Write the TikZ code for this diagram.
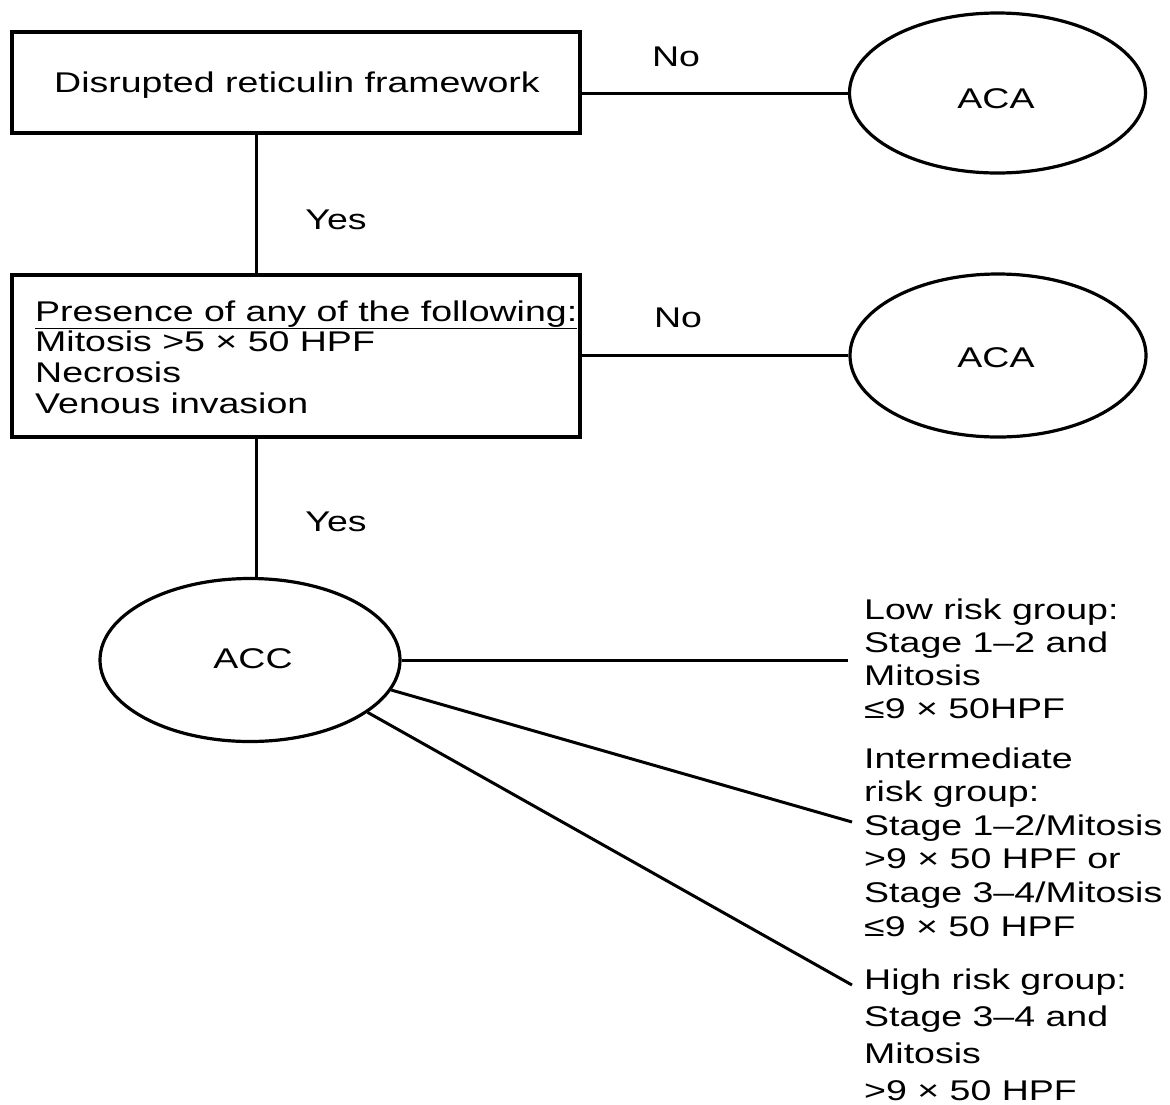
\documentclass[tikz,border=0pt]{standalone}
\usepackage{fontspec}
\setmainfont{Liberation Sans}
\usepackage{graphicx}
\usetikzlibrary{shapes.geometric}
\newcommand{\wide}[1]{\scalebox{1.316}[1]{#1}}
\begin{document}
\begin{tikzpicture}[x=1pt,y=-1pt,
  box/.style={draw, line width=3.8pt, rectangle, inner sep=0pt},
  oval/.style={draw, line width=3.2pt, ellipse, inner sep=0pt},
  conn/.style={line width=3pt},
  lbl/.style={inner sep=0pt, font=\fontsize{28.5}{33}\selectfont},
]
\useasboundingbox (0,0) rectangle (1170,1104);

% boxes
\node[box, minimum width=568pt, minimum height=101pt] (b1) at (296,82.5) {};
\node[lbl, text depth=0pt] (b1t) at (297,82.5) {\wide{Disrupted reticulin framework}};

\node[box, minimum width=568pt, minimum height=162pt] (b2) at (296,356) {};
\node[lbl, anchor=base west] (b2t) at (35,321) {\wide{\fontsize{28.5}{30.8}\selectfont\begin{tabular}[t]{@{}l@{}}\underline{Presence of any of the following:}\\ Mitosis >5 × 50 HPF\\ Necrosis\\ Venous invasion\end{tabular}}};

% ellipses
\node[oval, minimum width=296pt, minimum height=160pt] (aca1) at (997.5,93) {};
\node[lbl] (aca1t) at (996,98.5) {\wide{ACA}};
\node[oval, minimum width=296pt, minimum height=163pt] (aca2) at (998,355.5) {};
\node[lbl] (aca2t) at (996,358) {\wide{ACA}};
\node[oval, minimum width=300pt, minimum height=163pt] (acc) at (250,660) {};
\node[lbl] (acct) at (253,659) {\wide{ACC}};

% labels
\node[lbl] (no1) at (676,57) {\wide{No}};
\node[lbl] (no2) at (678,318) {\wide{No}};
\node[lbl] (yes1) at (336,220) {\wide{Yes}};
\node[lbl] (yes2) at (336,522) {\wide{Yes}};

% risk groups
\node[lbl, anchor=base west] (low) at (864,619) {\wide{\begin{tabular}[t]{@{}l@{}}Low risk group:\\ Stage 1–2 and\\ Mitosis\\ ≤9 × 50HPF\end{tabular}}};
\node[lbl, anchor=base west] (mid) at (864,768) {\wide{\fontsize{28.5}{33.6}\selectfont\begin{tabular}[t]{@{}l@{}}Intermediate\\ risk group:\\ Stage 1–2/Mitosis\\ >9 × 50 HPF or\\ Stage 3–4/Mitosis\\ ≤9 × 50 HPF\end{tabular}}};
\node[lbl, anchor=base west] (high) at (864,989) {\wide{\fontsize{28.5}{37}\selectfont\begin{tabular}[t]{@{}l@{}}High risk group:\\ Stage 3–4 and\\ Mitosis\\ >9 × 50 HPF\end{tabular}}};

% connectors
\coordinate (vx) at (256,0);
\draw[conn] (b1.east |- aca1.west) -- (aca1.west);
\draw[conn] (b2.east |- aca2.west) -- (aca2.west);
\draw[conn] (b1.south -| vx) -- (b2.north -| vx);
\draw[conn] (b2.south -| vx) -- (acc.north -| vx);
\coordinate (e1) at (848,660);
\coordinate (e2) at (852,822);
\coordinate (e3) at (852,985);
\draw[conn] (acc.east) -- (e1);
\draw[conn] (acc.-12) -- (e2);
\draw[conn] (acc.-24) -- (e3);
\end{tikzpicture}
\end{document}
